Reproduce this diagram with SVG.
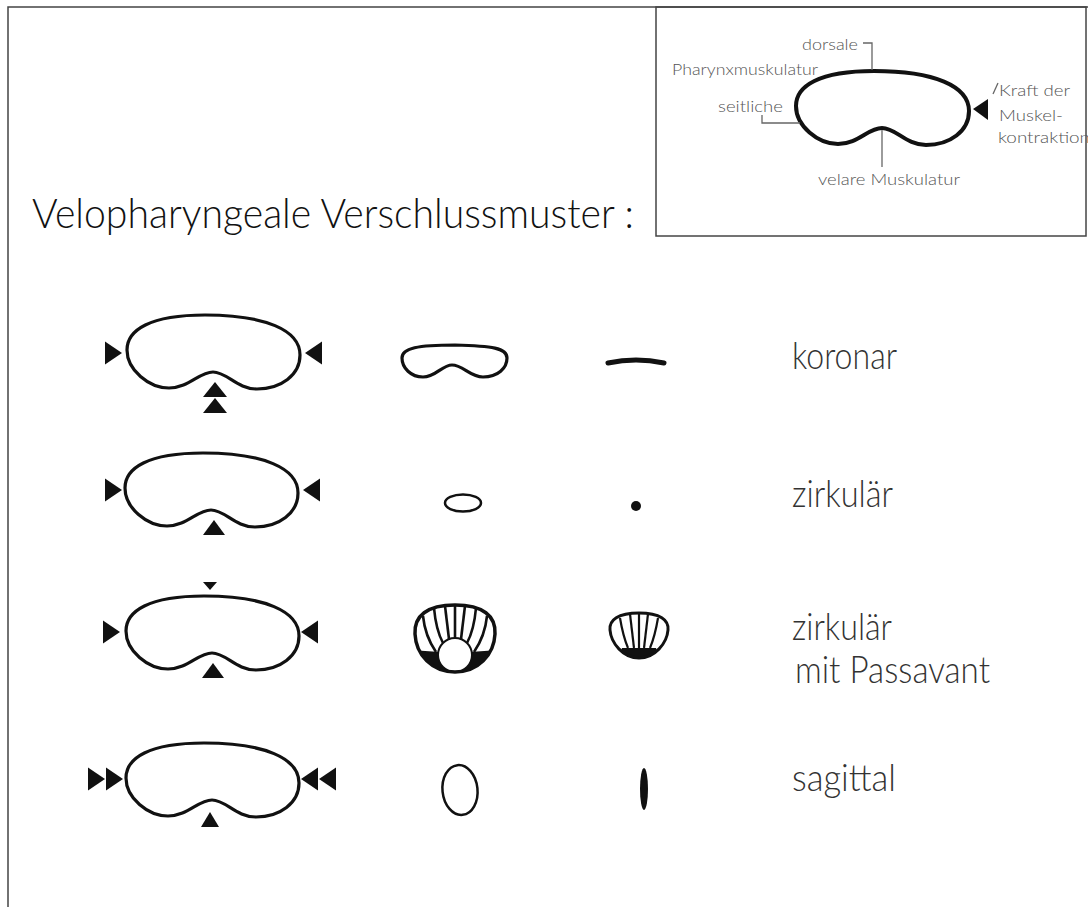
<svg xmlns="http://www.w3.org/2000/svg" width="1088" height="907" viewBox="0 0 1088 907">
  <style>
    .lbl { font-family: Lato, "Open Sans", "Liberation Sans", sans-serif; font-weight: 300; fill: #333; }
    .title { font-family: Lato, "Open Sans", "Liberation Sans", sans-serif; font-weight: 300; fill: #111; font-size: 42px; }
    .row { font-size: 38px; }
    .small { font-size: 15px; fill: #555; }
    .outline { fill: none; stroke: #111; stroke-width: 3.2; stroke-linejoin: round; }
    .tri { fill: #111; }
    .lead { fill: none; stroke: #666; stroke-width: 1.3; }
    .frame { fill: none; stroke: #444; stroke-width: 1.5; }
  </style>
  <defs>
    <!-- pharynx cross-section, origin at the top of the velar bulge -->
    <path id="pharynx" d="M0,0 C14,0 24,17 44,17 C68,17 87,3 87,-17 C87,-42 52,-57 -8,-57 C-63,-57 -86,-42 -86,-22 C-86,-2 -64,16 -44,16 C-24,16 -14,0 0,0 Z"/>
    <path id="triRight" d="M0,-11.5 L17,0 L0,11.5 Z"/>
    <path id="triLeft" d="M0,-11.5 L-17,0 L0,11.5 Z"/>
    <clipPath id="shellBig">
      <path d="M455,605 C483,605 496,616 495,634 C494,655 478,672 455,672 C432,672 416,655 415,634 C414,616 427,605 455,605 Z"/>
    </clipPath>
    <clipPath id="shellSmall">
      <path d="M639,613 C660,613 669,620 668,630 C667,643 655,658 639,658 C623,658 611,643 610,630 C609,620 618,613 639,613 Z"/>
    </clipPath>
  </defs>

  <rect width="1088" height="907" fill="#fff"/>

  <!-- page frame -->
  <g id="frame">
    <path class="frame" d="M8,907 L8,7 L1088,7"/>
  </g>

  <!-- legend box -->
  <g id="legend">
    <rect class="frame" x="656" y="7" width="430" height="229" stroke="#222"/>
    <use href="#pharynx" transform="translate(882,128)" fill="none" stroke="#111" stroke-width="4"/>
    <path class="tri" d="M973,109 L988,99 L988,120 Z"/>
    <text class="lbl small" x="802" y="50" textLength="56" lengthAdjust="spacingAndGlyphs">dorsale</text>
    <text class="lbl small" x="672" y="75" textLength="146" lengthAdjust="spacingAndGlyphs">Pharynxmuskulatur</text>
    <text class="lbl small" x="718" y="112" textLength="65" lengthAdjust="spacingAndGlyphs">seitliche</text>
    <text class="lbl small" x="818" y="185" textLength="142" lengthAdjust="spacingAndGlyphs">velare Muskulatur</text>
    <text class="lbl small" x="999" y="96" textLength="71" lengthAdjust="spacingAndGlyphs">Kraft der</text>
    <text class="lbl small" x="999" y="121" textLength="64" lengthAdjust="spacingAndGlyphs">Muskel-</text>
    <text class="lbl small" x="998" y="143" textLength="92" lengthAdjust="spacingAndGlyphs">kontraktion</text>
  </g>

  <!-- leader lines of the legend -->
  <g id="connectors">
    <path class="lead" d="M863,43 L872,43 L872,70"/>
    <path class="lead" d="M762,115 L762,123 L800,123"/>
    <path class="lead" d="M882,130 L882,167"/>
    <path class="lead" d="M998,83 L993,94"/>
  </g>

  <g id="title">
    <text class="title" x="32" y="228" textLength="602" lengthAdjust="spacingAndGlyphs">Velopharyngeale Verschlussmuster :</text>
  </g>

  <!-- row 1: koronar -->
  <g id="row-koronar">
    <use href="#pharynx" class="outline" transform="translate(213,372)"/>
    <use href="#triRight" class="tri" transform="translate(105,353)"/>
    <use href="#triLeft" class="tri" transform="translate(322,353)"/>
    <path class="tri" d="M203,397 L215,382 L227,397 Z"/>
    <path class="tri" d="M203,413 L215,398 L227,413 Z"/>
    <path class="outline" stroke-width="3" d="M452,365 C463,365 470,377 483,377 C498,377 507,368 507,358 C507,348 492,346 455,345 C418,345 402,348 402,358 C402,368 411,377 423,377 C436,377 442,365 452,365 Z"/>
    <path d="M608,363 Q636,357 664,363" fill="none" stroke="#111" stroke-width="5" stroke-linecap="round"/>
    <text class="lbl row" x="792" y="369" textLength="105" lengthAdjust="spacingAndGlyphs">koronar</text>
  </g>

  <!-- row 2: zirkulär -->
  <g id="row-zirkulaer">
    <use href="#pharynx" class="outline" transform="translate(211,510)"/>
    <use href="#triRight" class="tri" transform="translate(105,490)"/>
    <use href="#triLeft" class="tri" transform="translate(320,490)"/>
    <path class="tri" d="M203,535 L214,520 L225,535 Z"/>
    <ellipse cx="463" cy="503" rx="18" ry="8.5" fill="none" stroke="#111" stroke-width="2.5"/>
    <circle cx="636" cy="506" r="5" fill="#111"/>
    <text class="lbl row" x="792" y="507" textLength="101" lengthAdjust="spacingAndGlyphs">zirkulär</text>
  </g>

  <!-- row 3: zirkulär mit Passavant -->
  <g id="row-passavant">
    <use href="#pharynx" class="outline" transform="translate(212,653)"/>
    <path class="tri" d="M203,582 L217,582 L210,590 Z"/>
    <use href="#triRight" class="tri" transform="translate(103,632)"/>
    <use href="#triLeft" class="tri" transform="translate(318,632)"/>
    <path class="tri" d="M202,678 L213,663 L224,678 Z"/>

    <!-- large ribbed opening with Passavant ridge -->
    <g clip-path="url(#shellBig)">
      <path d="M410,650 L440,652 L455,680 L470,652 L500,650 L500,680 L410,680 Z" fill="#111"/>
    </g>
    <g stroke="#111" stroke-width="2.6" fill="none">
      <path d="M423,616 Q425,636 436,652"/>
      <path d="M434,608 Q436,630 443,643"/>
      <path d="M445,606 L449,639"/>
      <path d="M455,605 L455,637"/>
      <path d="M465,606 L461,639"/>
      <path d="M476,608 Q474,630 467,643"/>
      <path d="M487,616 Q485,636 474,652"/>
    </g>
    <circle cx="455" cy="655" r="17" fill="#fff" stroke="#111" stroke-width="2"/>
    <path d="M455,605 C483,605 496,616 495,634 C494,655 478,672 455,672 C432,672 416,655 415,634 C414,616 427,605 455,605 Z" fill="none" stroke="#111" stroke-width="3.5"/>

    <!-- small ribbed opening -->
    <g clip-path="url(#shellSmall)">
      <path d="M622,648 L656,648 L660,662 L618,662 Z" fill="#111"/>
    </g>
    <g stroke="#111" stroke-width="2.2" fill="none">
      <path d="M620,618 Q623,636 628,648"/>
      <path d="M630,614 L634,648"/>
      <path d="M639,613 L639,648"/>
      <path d="M648,614 L644,648"/>
      <path d="M658,618 Q655,636 650,648"/>
    </g>
    <path d="M639,613 C660,613 669,620 668,630 C667,643 655,658 639,658 C623,658 611,643 610,630 C609,620 618,613 639,613 Z" fill="none" stroke="#111" stroke-width="3"/>

    <text class="lbl row" x="792" y="640" textLength="100" lengthAdjust="spacingAndGlyphs">zirkulär</text>
    <text class="lbl row" x="795" y="683" textLength="195" lengthAdjust="spacingAndGlyphs">mit Passavant</text>
  </g>

  <!-- row 4: sagittal -->
  <g id="row-sagittal">
    <use href="#pharynx" class="outline" transform="translate(212,800)"/>
    <use href="#triRight" class="tri" transform="translate(88,779)"/>
    <use href="#triRight" class="tri" transform="translate(106,779)"/>
    <use href="#triLeft" class="tri" transform="translate(318,779)"/>
    <use href="#triLeft" class="tri" transform="translate(336,779)"/>
    <path class="tri" d="M201,827 L210,812 L219,827 Z"/>
    <ellipse cx="460" cy="790" rx="17.5" ry="25" transform="rotate(-6 460 790)" fill="none" stroke="#111" stroke-width="2.5"/>
    <ellipse cx="644" cy="789" rx="4" ry="21" fill="#111"/>
    <text class="lbl row" x="792" y="791" textLength="104" lengthAdjust="spacingAndGlyphs">sagittal</text>
  </g>
</svg>
